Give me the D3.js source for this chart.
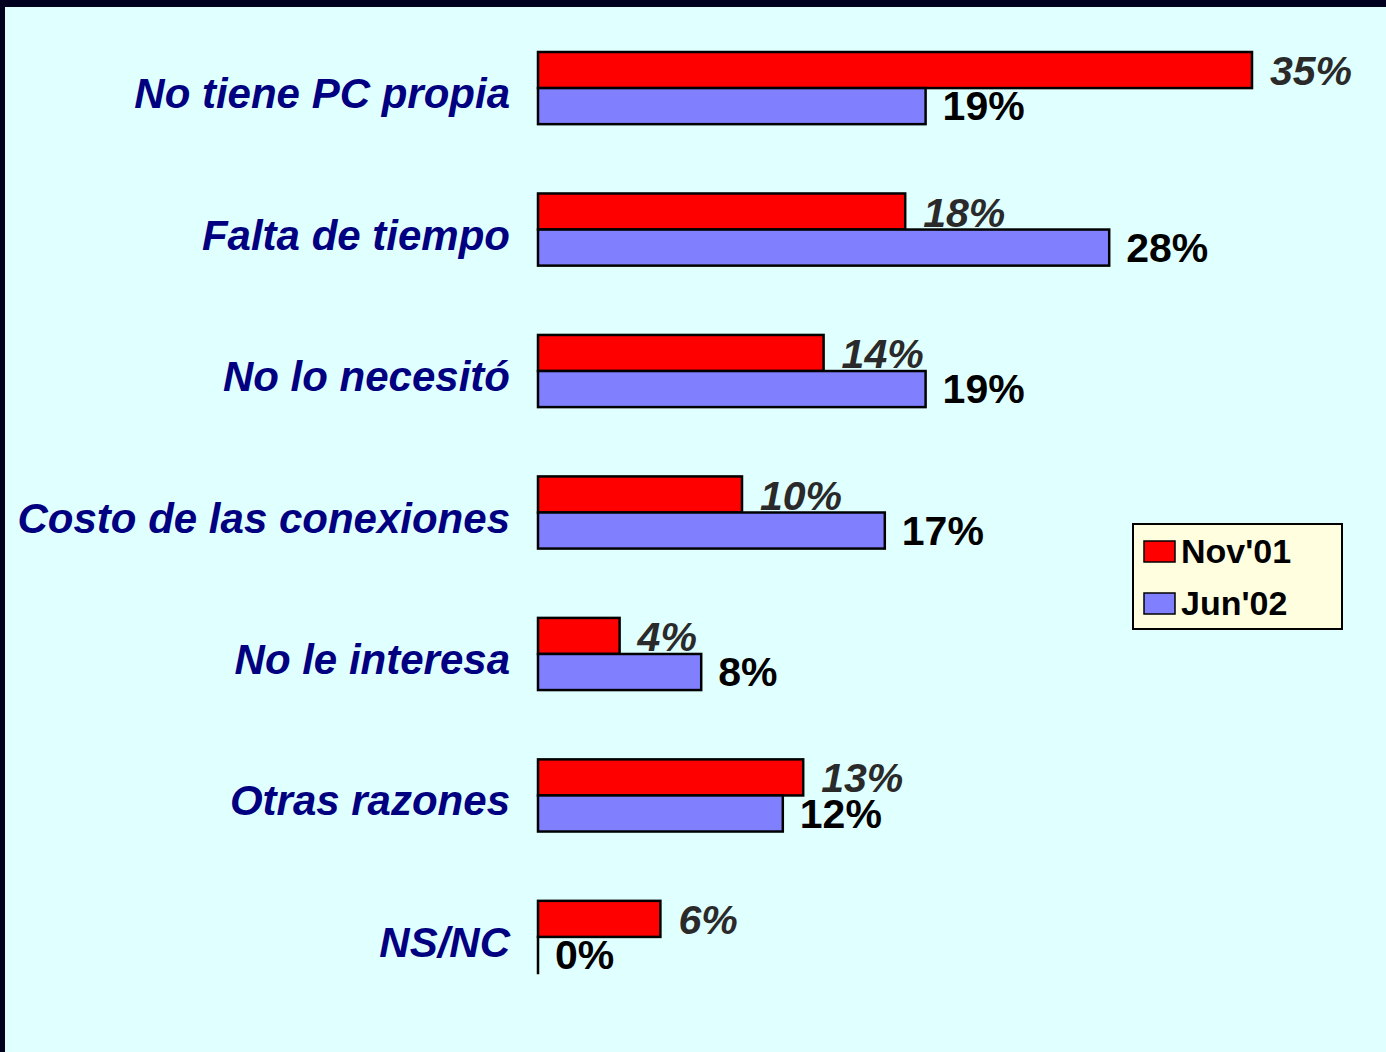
<!DOCTYPE html>
<html>
<head>
<meta charset="utf-8">
<script src="https://cdn.jsdelivr.net/npm/d3@7"></script>
<style>
  body { margin: 0; background: #000020; }
  svg { display: block; }
</style>
</head>
<body>
<div id="main"></div>
<script>
// categories and values (%)
const categories = ["No tiene PC propia", "Falta de tiempo", "No lo necesitó", "Costo de las conexiones",
                    "No le interesa", "Otras razones", "NS/NC"];
const seriesNames = ["Nov'01", "Jun'02"];
const nov01 = [35, 18, 14, 10, 4, 13, 6];
const jun02 = [19, 28, 19, 17, 8, 12, 0];
const seriesColors = ["#FF0000", "#8080FF"];

const W = 1386, H = 1052;

function createViz() {
    const svg = d3.select("#main").append("svg")
        .attr("width", W)
        .attr("height", H);

    // dark frame + light panel
    svg.append("rect").attr("width", W).attr("height", H).attr("fill", "#00001f");
    svg.append("rect").attr("x", 5).attr("y", 7).attr("width", W - 5).attr("height", H - 7).attr("fill", "#E0FFFF");

    const x = d3.scaleLinear().domain([0, 35]).range([538, 1252]);
    const y = d3.scaleBand().domain(categories).range([52, 973]).paddingInner(0.49).paddingOuter(0);
    const ySub = d3.scaleBand().domain(seriesNames).range([0, y.bandwidth()]);

    const rows = categories.map((c, i) => ({ cat: c, vals: [nov01[i], jun02[i]] }));

    // category labels
    svg.append("g")
        .selectAll("text")
        .data(categories)
        .join("text")
        .attr("x", 510)
        .attr("y", d => y(d) + y.bandwidth() / 2 + 20)
        .attr("text-anchor", "end")
        .attr("font-family", "Liberation Sans, Arial, sans-serif")
        .attr("font-size", 42)
        .attr("font-weight", "bold")
        .attr("font-style", "italic")
        .attr("fill", "#000080")
        .text(d => d);

    const groups = svg.append("g")
        .selectAll("g")
        .data(rows)
        .join("g")
        .attr("transform", d => `translate(0,${y(d.cat)})`);

    // bars (a zero value still shows its outline as a thin vertical stroke)
    groups.selectAll("rect")
        .data(d => d.vals.map((v, j) => ({ v: v, s: seriesNames[j], j: j })))
        .join("rect")
        .attr("x", x(0))
        .attr("y", d => ySub(d.s))
        .attr("width", d => Math.max(x(d.v) - x(0), 0.01))
        .attr("height", ySub.bandwidth())
        .attr("fill", d => seriesColors[d.j])
        .attr("stroke", "#000")
        .attr("stroke-width", 2.5);

    // value labels
    groups.selectAll("text")
        .data(d => d.vals.map((v, j) => ({ v: v, s: seriesNames[j], j: j })))
        .join("text")
        .attr("x", d => x(d.v) + (d.j === 0 ? 18 : 17))
        .attr("y", d => ySub(d.s) + ySub.bandwidth() - (d.j === 0 ? 3 : 4))
        .attr("font-family", "Liberation Sans, Arial, sans-serif")
        .attr("font-size", 41)
        .attr("font-weight", "bold")
        .attr("font-style", d => d.j === 0 ? "italic" : "normal")
        .attr("fill", d => d.j === 0 ? "#2a2a2a" : "#000000")
        .text(d => d.v + "%");

    // legend
    const legend = svg.append("g").attr("transform", "translate(1133,524)");
    legend.append("rect")
        .attr("width", 209).attr("height", 105)
        .attr("fill", "#FFFFE0")
        .attr("stroke", "#000").attr("stroke-width", 2);
    const items = legend.selectAll("g")
        .data(seriesNames)
        .join("g")
        .attr("transform", (d, i) => `translate(11,${17 + i * 52})`);
    items.append("rect")
        .attr("width", 31).attr("height", 21)
        .attr("fill", (d, i) => seriesColors[i])
        .attr("stroke", "#000").attr("stroke-width", 1.5);
    items.append("text")
        .attr("x", 37).attr("y", 22)
        .attr("font-family", "Liberation Sans, Arial, sans-serif")
        .attr("font-size", 34)
        .attr("font-weight", "bold")
        .attr("fill", "#000")
        .text(d => d);
}

createViz();
</script>
</body>
</html>
